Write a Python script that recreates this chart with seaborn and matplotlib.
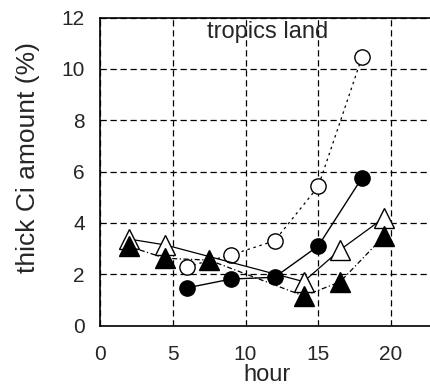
import matplotlib
matplotlib.use("Agg")
import matplotlib.pyplot as plt
import seaborn as sns
import pandas as pd

# data
hours_circ = [6, 9, 12, 15, 18]
open_circle = [2.3, 2.75, 3.3, 5.42, 10.45]
filled_circle = [1.47, 1.81, 1.88, 3.1, 5.75]
hours_open_tri = [2, 4.5, 14, 16.5, 19.5]
open_triangle = [3.37, 3.14, 1.71, 2.95, 4.19]
hours_filled_tri = [2, 4.5, 7.5, 14, 16.5, 19.5]
filled_triangle = [3.08, 2.62, 2.55, 1.15, 1.7, 3.47]

title = "tropics land"
xlabel = "hour"
ylabel = "thick Ci amount (%)"
xticks = [0, 5, 10, 15, 20]
yticks = [0, 2, 4, 6, 8, 10, 12]

sns.set_style("white")
plt.rcParams['font.family'] = ['Liberation Sans', 'DejaVu Sans']

fig = plt.figure(figsize=(4.31, 3.90), dpi=100)
W, H = 431, 390
left, right_px, top, bottom = 100, 100 + 24 * 14.55, 17.7, 325.5
ax = fig.add_axes([left / W, (H - bottom) / H, (right_px - left) / W, (bottom - top) / H])

series = [
    (hours_circ, open_circle, dict(marker='o', mfc='white', mec='black', ms=11, ls=(0, (2, 3)), lw=0.9)),
    (hours_circ, filled_circle, dict(marker='o', mfc='black', mec='black', ms=11, ls='-', lw=1.0)),
    (hours_open_tri, open_triangle, dict(marker='^', mfc='white', mec='black', ms=14, ls='-', lw=0.9)),
    (hours_filled_tri, filled_triangle, dict(marker='^', mfc='black', mec='black', ms=14, ls=(0, (4, 2, 1, 2)), lw=0.9)),
]
for xs, ys, kw in series:
    df = pd.DataFrame({"x": xs, "y": ys})
    sns.lineplot(data=df, x="x", y="y", ax=ax, color='black', sort=False,
                 markeredgewidth=1.0, zorder=3, **kw)

ax.set_xlim(0, 24)
ax.set_ylim(0, 12)
ax.set_xticks(xticks)
ax.set_yticks(yticks)
ax.tick_params(axis='both', length=0, labelsize=15)
ax.tick_params(axis='x', pad=14)
ax.tick_params(axis='y', pad=11)
ax.grid(True, color='black', ls=(0, (5, 3)), lw=0.9)
for s in ['left', 'bottom', 'top']:
    ax.spines[s].set_color('black')
    ax.spines[s].set_linewidth(1.2)
ax.spines['right'].set_visible(False)
ax.set_xlabel(xlabel, fontsize=17, va='top')
ax.xaxis.set_label_coords(0.477, -0.125)
ax.set_ylabel(ylabel, fontsize=19)
ax.yaxis.set_label_coords(-0.172, 0.546)
ax.text(11.54, 11.44, title, fontsize=17, ha='center', va='center')

fig.savefig("out.png", dpi=100)
